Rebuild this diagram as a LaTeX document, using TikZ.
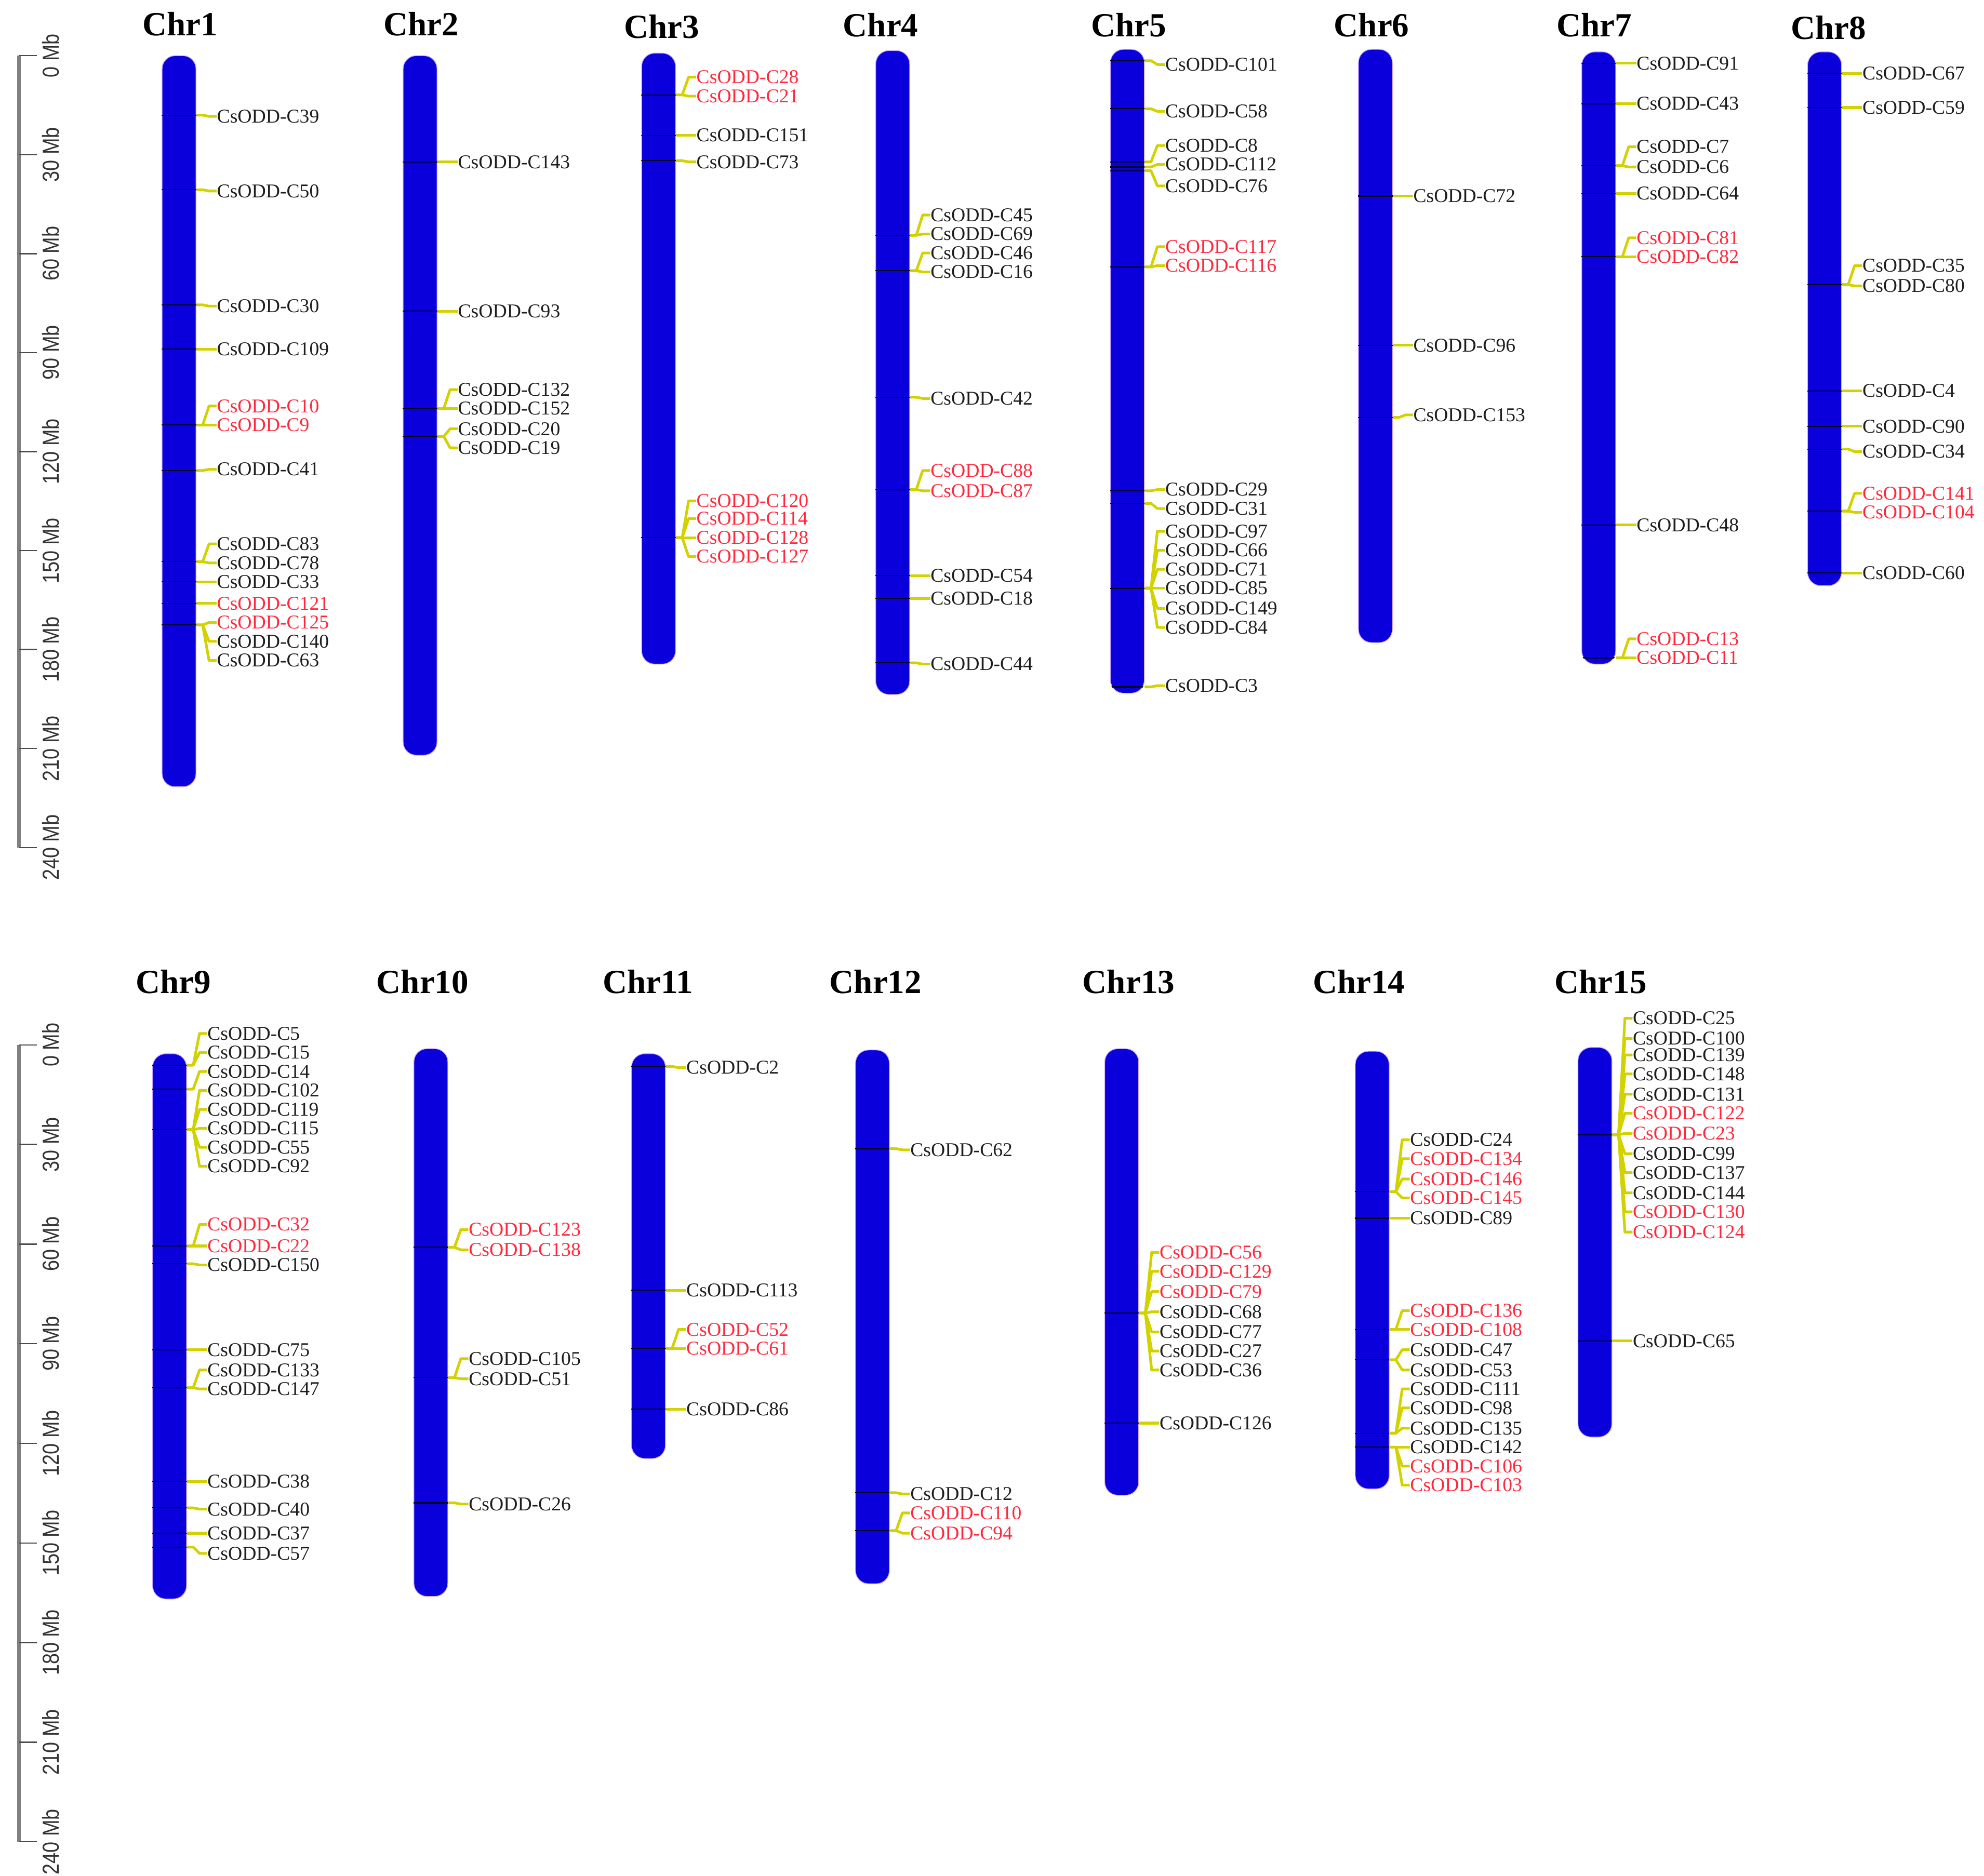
\documentclass[tikz,border=0pt]{standalone}
\usepackage{fontspec}
\setmainfont{Liberation Serif}
\newfontfamily\axisfont[FakeStretch=0.85]{Liberation Sans}
\usetikzlibrary{positioning, calc}

\definecolor{chrblue}{HTML}{0A00DC}
\definecolor{chredge}{HTML}{C9A6FF}
\definecolor{linkyellow}{HTML}{D2D200}
\definecolor{hlred}{HTML}{FF283C}
\definecolor{gtext}{HTML}{1E1E1E}

% genes of one chromosome: locus y / label y / number / colour
\newcommand{\placegenes}[2]{%
  \foreach \gy/\ly/\id/\col in {#2} {
    \coordinate (g\id) at (#1.east |- 0,\gy);
    \begin{scope}
      \clip[rounded corners=0.26cm] (#1.south west) rectangle (#1.north east);
      \draw[locus] (#1.west |- g\id) -- (g\id);
    \end{scope}
    \node[gene, text=\col, xshift=0.4cm] (C\id) at (g\id |- 0,\ly) {CsODD-C\id};
    \draw[link] (g\id) -- ++(5,0) -- ([xshift=-0.15cm]C\id.west) -- (C\id.west);
  }
}

\begin{document}
\begin{tikzpicture}[
    x=0.025cm, y=-0.025cm,
    chrom/.style={rectangle, rounded corners=0.26cm, fill=chrblue, draw=chredge, line width=0.4pt, minimum width=0.67cm, inner sep=0pt},
    chrtitle/.style={font=\fontsize{19}{19}\selectfont\bfseries, inner sep=0pt},
    gene/.style={font=\fontsize{11}{11}\selectfont, inner sep=0pt, anchor=west},
    locus/.style={draw=black!85!blue, line width=0.6pt},
    link/.style={draw=linkyellow, line width=1.5pt, line join=round},
    axisline/.style={draw=gray, line width=1.8pt},
    mbtick/.style={draw=black!70, line width=0.7pt},
    mblabel/.style={font=\axisfont\fontsize{13}{13}\selectfont, rotate=90, inner sep=0pt, text=black!80}
]
\path[use as bounding box, fill=white] (0,0) rectangle (1568,1483);

% Scale bars
\draw[axisline] (15,44) -- (15,670);
\foreach \m in {0,30,...,240} {
  \draw[mbtick] (15,{44+\m*2.6083}) -- ++(14,0);
  \node[mblabel] (up\m) at (40,{44+\m*2.6083}) {\m\ Mb};
}
\draw[axisline] (15,826) -- (15,1456);
\foreach \m in {0,30,...,240} {
  \draw[mbtick] (15,{826+\m*2.625}) -- ++(14,0);
  \node[mblabel] (low\m) at (40,{826+\m*2.625}) {\m\ Mb};
}

% Chromosomes
\foreach \n/\x/\ya/\yb/\tx/\ty in {
  1/141.5/44/622/142.5/19, 2/332/44/597/333/19, 3/520.5/42/525/523/21,
  4/705.5/40/549/696/20, 5/891/39/548/892/20, 6/1087/39/508/1084/20,
  7/1263.5/41/525/1260/20, 8/1442/41/463/1445/22,
  9/134/833/1264/137/776, 10/340.5/829/1262/334/776, 11/512.5/833/1153/512/776,
  12/689.5/830/1252/692/776, 13/886.5/829/1182/892/776, 14/1084.5/831/1177/1074/776,
  15/1260.5/828/1136/1265/776} {
  \node[chrom, minimum height={(\yb-\ya)*0.025cm}] (chr\n) at (\x,{(\ya+\yb)/2}) {};
  \node[chrtitle] (t\n) at (\tx,\ty) {Chr\n};
}

% Chr1
\placegenes{chr1}{91/92/39/gtext, 150/151/50/gtext, 241/242/30/gtext, 276/276/109/gtext,
  336/321/10/hlred, 336/336/9/hlred, 372/371/41/gtext, 444/430/83/gtext, 444/445/78/gtext,
  460/460/33/gtext, 477/477/121/hlred, 494/492/125/hlred, 494/507/140/gtext, 494/522/63/gtext}
% Chr2
\placegenes{chr2}{128/128/143/gtext, 246/246/93/gtext, 323/308/132/gtext, 323/323/152/gtext,
  345/339/20/gtext, 345/354/19/gtext}
% Chr3
\placegenes{chr3}{75/61/28/hlred, 75/76/21/hlred, 107/107/151/gtext, 127/128/73/gtext,
  425/396/120/hlred, 425/410/114/hlred, 425/425/128/hlred, 425/440/127/hlred}
% Chr4
\placegenes{chr4}{186/170/45/gtext, 186/185/69/gtext, 214/200/46/gtext, 214/215/16/gtext,
  314/315/42/gtext, 387/372/88/hlred, 387/388/87/hlred, 455/455/54/gtext, 473/473/18/gtext,
  524/525/44/gtext}
% Chr5
\placegenes{chr5}{48/51/101/gtext, 86/88/58/gtext, 128/115/8/gtext, 132/130/112/gtext,
  135/147/76/gtext, 211/195/117/hlred, 211/210/116/hlred, 388/387/29/gtext, 398/402/31/gtext,
  465/420/97/gtext, 465/435/66/gtext, 465/450/71/gtext, 465/465/85/gtext, 465/481/149/gtext,
  465/496/84/gtext, 543/542/3/gtext}
% Chr6
\placegenes{chr6}{155/155/72/gtext, 273/273/96/gtext, 330/328/153/gtext}
% Chr7
\placegenes{chr7}{50/50/91/gtext, 82/82/43/gtext, 131/116/7/gtext, 131/132/6/gtext,
  153/153/64/gtext, 203/188/81/hlred, 203/203/82/hlred, 415/415/48/gtext,
  520/505/13/hlred, 520/520/11/hlred}
% Chr8
\placegenes{chr8}{58/58/67/gtext, 85/85/59/gtext, 225/210/35/gtext, 225/226/80/gtext,
  309/309/4/gtext, 337/337/90/gtext, 355/357/34/gtext, 404/390/141/hlred, 404/405/104/hlred,
  453/453/60/gtext}
% Chr9
\placegenes{chr9}{842/817/5/gtext, 842/832/15/gtext, 861/847/14/gtext, 893/862/102/gtext,
  893/877/119/gtext, 893/892/115/gtext, 893/907/55/gtext, 893/922/92/gtext,
  985/968/32/hlred, 985/985/22/hlred, 999/1000/150/gtext, 1067/1067/75/gtext,
  1097/1083/133/gtext, 1097/1098/147/gtext, 1171/1171/38/gtext, 1192/1193/40/gtext,
  1212/1212/37/gtext, 1223/1228/57/gtext}
% Chr10
\placegenes{chr10}{986/972/123/hlred, 986/988/138/hlred, 1089/1074/105/gtext,
  1089/1090/51/gtext, 1188/1189/26/gtext}
% Chr11
\placegenes{chr11}{843/844/2/gtext, 1020/1020/113/gtext, 1066/1051/52/hlred,
  1066/1066/61/hlred, 1114/1114/86/gtext}
% Chr12
\placegenes{chr12}{908/909/62/gtext, 1180/1181/12/gtext, 1210/1196/110/hlred, 1210/1212/94/hlred}
% Chr13
\placegenes{chr13}{1038/990/56/hlred, 1038/1005/129/hlred, 1038/1021/79/hlred,
  1038/1037/68/gtext, 1038/1053/77/gtext, 1038/1068/27/gtext, 1038/1083/36/gtext,
  1125/1125/126/gtext}
% Chr14
\placegenes{chr14}{942/901/24/gtext, 942/916/134/hlred, 942/932/146/hlred, 942/947/145/hlred,
  963/963/89/gtext, 1051/1036/136/hlred, 1051/1051/108/hlred, 1075/1067/47/gtext,
  1075/1083/53/gtext, 1133/1098/111/gtext, 1133/1113/98/gtext, 1133/1129/135/gtext,
  1144/1144/142/gtext, 1144/1159/106/hlred, 1144/1174/103/hlred}
% Chr15
\placegenes{chr15}{897/805/25/gtext, 897/821/100/gtext, 897/834/139/gtext, 897/849/148/gtext,
  897/865/131/gtext, 897/880/122/hlred, 897/896/23/hlred, 897/912/99/gtext,
  897/927/137/gtext, 897/943/144/gtext, 897/958/130/hlred, 897/974/124/hlred,
  1060/1060/65/gtext}

\end{tikzpicture}
\end{document}
